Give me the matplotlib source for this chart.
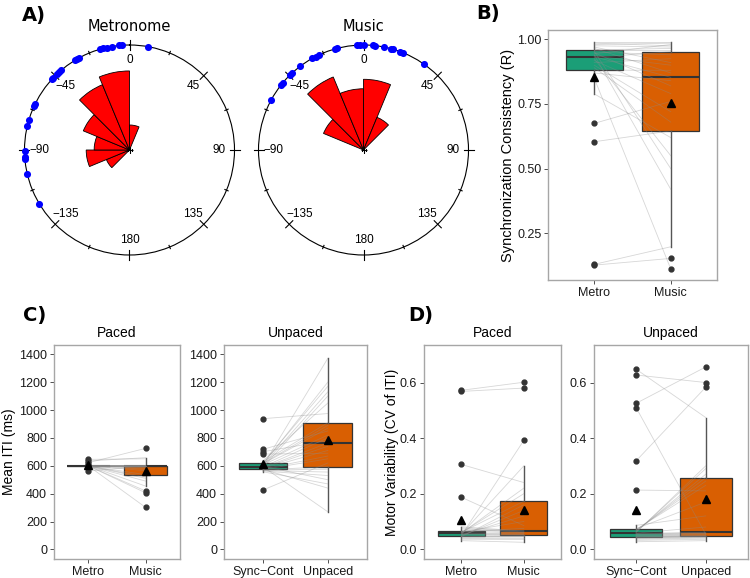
import numpy as np
import matplotlib
matplotlib.use('Agg')
import matplotlib.pyplot as plt

plt.rcParams['font.family'] = ['Liberation Sans', 'DejaVu Sans']

# ---------------- data ----------------
# Panel A: circular phase (deg) of each participant, and rose counts per 22.5 deg bin
metro_dots = [10.2, -4.3, -5.5, -9.8, -12.6, -14.6, -16.5, -28.5, -30.2, -31.0, -40.6, -42.2,
              -43.8, -46.7, -47.7, -63.8, -65.0, -73.6, -76.8, -90.4, -93.6, -95.0, -103.0, -120.8]
music_dots = [34.9, 22.3, 20.6, 16.5, 15.0, 11.5, 6.4, 5.2, 0.4, -1.8, -3.3, -14.6, -15.8,
              -25.3, -27.2, -29.2, -37.2, -43.1, -44.6, -50.1, -51.8, -61.6]
metro_rose_left = [-135, -112.5, -90, -67.5, -45, -22.5, 0]
metro_rose_counts = [1, 3, 2, 4, 8, 10, 1]
music_rose_left = [-67.5, -45, -22.5, 0, 22.5]
music_rose_counts = [3, 10, 6, 8, 2]
circ_labels = ["0", "45", "90", "135", "180", "\u2212135", "\u221290", "\u221245"]
circ_label_angles = [0, 45, 90, 135, 180, -135, -90, -45]

# Panel B: synchronization consistency (paired per participant)
B_metro = [0.99, 0.985, 0.98, 0.975, 0.97, 0.965, 0.96, 0.959, 0.954, 0.951, 0.948, 0.944, 0.94,
           0.936, 0.933, 0.93, 0.925, 0.918, 0.91, 0.90, 0.89, 0.881, 0.87, 0.85, 0.789, 0.675,
           0.604, 0.13, 0.127]
B_music = [0.99, 0.975, 0.985, 0.97, 0.91, 0.87, 0.96, 0.965, 0.50, 0.94, 0.82, 0.98, 0.42,
           0.90, 0.853, 0.952, 0.55, 0.79, 0.925, 0.72, 0.68, 0.88, 0.84, 0.112, 0.62, 0.76,
           0.646, 0.198, 0.153]
B_labels = ["Metro", "Music"]

# Panel C: mean ITI (ms)
C_metro = [600, 600, 600, 600, 600, 600, 600, 600, 600, 600, 600, 600, 600, 600, 562, 597, 598,
           598, 599, 599, 599, 599, 601, 601, 602, 603, 622, 635, 646]
C_music = [600, 600, 600, 600, 599, 596, 590, 585, 575, 565, 520, 510, 490, 454, 600, 600, 600,
           600, 536, 419, 406, 301, 600, 600, 600, 600, 725, 658, 650]
C_sync = [938, 426, 718, 701, 684, 600, 593, 611, 574, 620, 603, 557, 589, 636, 596, 562, 566,
          569, 571, 573, 577, 580, 583, 586, 591, 607, 614, 617, 628]
C_unpaced = [975, 620, 850, 780, 690, 1371, 270, 1200, 440, 1170, 1130, 470, 1100, 1050, 500,
             530, 555, 575, 593, 650, 670, 710, 740, 763, 800, 820, 870, 890, 909]

# Panel D: motor variability (CV of ITI)
D_metro = [0.572, 0.568, 0.305, 0.187, 0.050, 0.055, 0.058, 0.060, 0.061, 0.045, 0.048, 0.052,
           0.062, 0.064, 0.066, 0.031, 0.036, 0.040, 0.043, 0.047, 0.049, 0.051, 0.053, 0.056,
           0.059, 0.065, 0.073, 0.077, 0.081]
D_music = [0.601, 0.580, 0.24, 0.085, 0.392, 0.30, 0.22, 0.20, 0.173, 0.16, 0.14, 0.12, 0.10,
           0.075, 0.067, 0.025, 0.035, 0.040, 0.044, 0.047, 0.049, 0.050, 0.051, 0.053, 0.055,
           0.058, 0.060, 0.062, 0.065]
D_sync = [0.648, 0.627, 0.525, 0.510, 0.318, 0.213, 0.060, 0.062, 0.064, 0.066, 0.069, 0.071,
          0.074, 0.086, 0.058, 0.057, 0.027, 0.032, 0.036, 0.039, 0.041, 0.043, 0.044, 0.045,
          0.047, 0.049, 0.051, 0.053, 0.055]
D_unpaced = [0.474, 0.600, 0.656, 0.054, 0.583, 0.21, 0.30, 0.29, 0.27, 0.258, 0.245, 0.23,
             0.17, 0.12, 0.08, 0.061, 0.031, 0.036, 0.040, 0.043, 0.045, 0.046, 0.047, 0.048,
             0.050, 0.052, 0.055, 0.057, 0.059]
paced_labels = ["Metro", "Music"]
unpaced_labels = ["Sync\u2212Cont", "Unpaced"]

C_ticks = [0, 200, 400, 600, 800, 1000, 1200, 1400]
D_ticks = [0.0, 0.2, 0.4, 0.6]
B_ticks = [0.25, 0.50, 0.75, 1.00]

# ---------------- figure ----------------
W, H = 750, 578
fig = plt.figure(figsize=(7.5, 5.78), dpi=100)


def rect(x0, y0, x1, y1):
    return [x0 / W, 1 - y1 / H, (x1 - x0) / W, (y1 - y0) / H]


def ftext(x, y, s, **kw):
    fig.text(x / W, 1 - y / H, s, **kw)


def rose(cx, cy, R, title, bin_left, counts, dots):
    ax = fig.add_axes(rect(cx - R, cy - R, cx + R, cy + R), projection='polar')
    ax.set_theta_zero_location('N')
    ax.set_theta_direction(-1)
    rmax = 4.2
    ax.grid(False)
    ax.set_xticks([])
    ax.set_yticks([])
    ax.spines['polar'].set_linewidth(0.8)
    ax.spines['polar'].set_color('black')
    theta = np.deg2rad(np.array(bin_left) + 11.25)
    ax.bar(theta, np.sqrt(np.array(counts, dtype=float)), width=np.deg2rad(22.5), bottom=0,
           color='#ff0000', edgecolor='black', linewidth=0.6, align='center', zorder=2)
    for a in range(-180, 180, 45):
        t = np.deg2rad(a)
        ax.plot([t, t], [rmax - 0.2, rmax + 0.2], color='black', lw=0.8, clip_on=False)
    for a in np.arange(-157.5, 180, 45):
        t = np.deg2rad(a)
        ax.plot([t, t], [rmax - 0.07, rmax + 0.07], color='black', lw=0.8, clip_on=False)
    for lab, a in zip(circ_labels, circ_label_angles):
        ax.text(np.deg2rad(a), 3.6, lab, ha='center', va='center', fontsize=8.5,
                family=['Liberation Sans', 'DejaVu Sans'])
    ax.scatter(np.deg2rad(dots), np.full(len(dots), rmax), s=26, color='#0000ff',
               clip_on=False, zorder=5, linewidths=0)
    ax.plot([0], [0], marker='+', color='black', ms=4, mew=0.8)
    ax.set_ylim(0, rmax)
    ftext(cx, 31, title, ha='center', va='baseline', fontsize=10.5, family='DejaVu Sans')


rose(129.5, 150, 105, "Metronome", metro_rose_left, metro_rose_counts, metro_dots)
rose(363.5, 150, 105, "Music", music_rose_left, music_rose_counts, music_dots)

GREEN = '#1b9e77'
ORANGE = '#d95f02'


def boxpanel(px, a, b, labels, ylim, yticks, yticklabels, fs=9):
    ax = fig.add_axes(rect(*px))
    bp = ax.boxplot([a, b], positions=[1, 2], widths=0.75, patch_artist=True, showmeans=True,
                    showcaps=False, whis=1.5,
                    medianprops=dict(color='#333333', lw=1.5),
                    boxprops=dict(edgecolor='#333333', lw=0.9),
                    whiskerprops=dict(color='#555555', lw=1.0),
                    flierprops=dict(marker='o', markerfacecolor='#333333',
                                    markeredgecolor='#333333', markersize=3.5, zorder=4),
                    meanprops=dict(marker='^', markerfacecolor='black', markeredgecolor='black',
                                   markersize=5.5, zorder=5))
    for patch, c in zip(bp['boxes'], [GREEN, ORANGE]):
        patch.set_facecolor(c)
    for f in bp['fliers']:
        f.set_zorder(4)
    for m in bp['means']:
        m.set_zorder(5)
    for y1, y2 in zip(a, b):
        ax.plot([1, 2], [y1, y2], color='#8c8c8c', alpha=0.35, lw=0.6, zorder=3)
    ax.set_xlim(0.4, 2.6)
    ax.set_ylim(*ylim)
    ax.set_xticks([1, 2])
    ax.set_xticklabels(labels)
    ax.set_yticks(yticks)
    ax.set_yticklabels(yticklabels)
    for s in ax.spines.values():
        s.set_color('#a6a6a6')
        s.set_linewidth(1.0)
    ax.tick_params(length=3, width=0.6, color='#333333', labelsize=fs, labelcolor='#1a1a1a', pad=2)
    return ax


# Panel B
boxpanel((548.3, 30, 716.7, 280), B_metro, B_music, B_labels, (0.0695, 1.036), B_ticks,
         ["0.25", "0.50", "0.75", "1.00"], fs=9)
ftext(508, 155, "Synchronization Consistency (R)", rotation=90, ha='center', va='center',
      fontsize=10.5)

# Panel C
boxpanel((54, 345, 180, 558.7), C_metro, C_music, paced_labels, (-67, 1467), C_ticks,
         [str(t) for t in C_ticks])
boxpanel((224, 345, 366.7, 558.7), C_sync, C_unpaced, unpaced_labels, (-67, 1467), C_ticks,
         [str(t) for t in C_ticks])
ftext(9, 452, "Mean ITI (ms)", rotation=90, ha='center', va='center', fontsize=10)
ftext(117, 337, "Paced", ha='center', va='baseline', fontsize=10)
ftext(295.3, 337, "Unpaced", ha='center', va='baseline', fontsize=10)

# Panel D
boxpanel((424, 345, 561.3, 558.7), D_metro, D_music, paced_labels, (-0.034, 0.735), D_ticks,
         ["0.0", "0.2", "0.4", "0.6"])
boxpanel((594.3, 345, 747.5, 558.7), D_sync, D_unpaced, unpaced_labels, (-0.034, 0.735), D_ticks,
         ["0.0", "0.2", "0.4", "0.6"])
ftext(392, 452, "Motor Variability (CV of ITI)", rotation=90, ha='center', va='center', fontsize=10)
ftext(492.6, 337, "Paced", ha='center', va='baseline', fontsize=10)
ftext(670.9, 337, "Unpaced", ha='center', va='baseline', fontsize=10)

# Panel labels
for lab, x, y in [("A)", 22, 20.5), ("B)", 476.7, 19.5), ("C)", 23, 321.5), ("D)", 408, 320.5)]:
    ftext(x, y, lab, ha='left', va='baseline', fontsize=14, fontweight='bold', family='DejaVu Sans')

fig.savefig('out.png', dpi=100)
